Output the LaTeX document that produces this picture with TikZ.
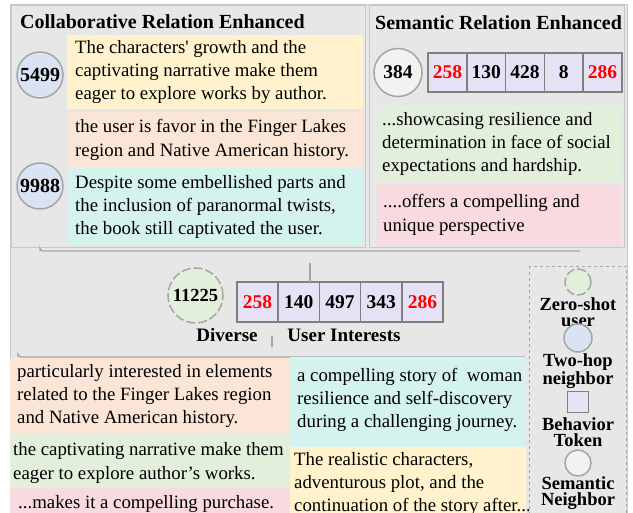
\documentclass[tikz,border=0pt]{standalone}
\usepackage{fontspec}
\setmainfont{Liberation Serif}[Ligatures=TeXOff]
\usetikzlibrary{positioning, calc}
\definecolor{cPanel}{RGB}{231,231,231}
\definecolor{cEdge}{RGB}{200,200,200}
\definecolor{cLine}{RGB}{165,165,165}
\definecolor{cYellow}{RGB}{255,242,204}
\definecolor{cPeach}{RGB}{251,229,214}
\definecolor{cCyan}{RGB}{212,242,238}
\definecolor{cGreen}{RGB}{226,239,218}
\definecolor{cPink}{RGB}{249,218,222}
\definecolor{cHop}{RGB}{218,227,243}
\definecolor{cSem}{RGB}{242,242,242}
\definecolor{cToken}{RGB}{230,225,245}
\definecolor{cTokEdge}{RGB}{128,128,128}
\definecolor{cRed}{RGB}{255,0,0}
\tikzset{
    panel/.style    ={draw=cEdge, line width=1pt, fill=cPanel},
    title/.style    ={anchor=base west, inner sep=0pt, font=\bfseries\fontsize{20}{24}\selectfont},
    textbox/.style  ={anchor=west, inner sep=0pt, align=left, font=\fontsize{18.8}{23.3}\selectfont},
    hopnode/.style  ={circle, draw=cLine, line width=1.5pt, fill=cHop, inner sep=0pt, minimum size=46, font=\bfseries\fontsize{20}{20}\selectfont},
    semnode/.style  ={circle, draw=cLine, line width=1.5pt, fill=cSem, inner sep=0pt, minimum size=48, font=\bfseries\fontsize{19.5}{20}\selectfont},
    usernode/.style ={circle, draw=cLine, line width=1.5pt, dash pattern=on 9pt off 3pt, fill=cGreen, inner sep=0pt, minimum size=55, font=\bfseries\fontsize{18.5}{20}\selectfont},
    token/.style    ={rectangle, draw=cTokEdge, line width=1.5pt, fill=cToken, inner sep=0pt, outer sep=0pt, minimum width=38.8, minimum height=39, font=\bfseries\fontsize{19.5}{20}\selectfont},
    hot/.style      ={text=cRed},
    brace/.style    ={draw=cLine, line width=1.2pt, rounded corners=3pt},
    tag/.style      ={inner sep=0pt, font=\bfseries\fontsize{19}{20}\selectfont},
    legendtxt/.style={align=center, inner sep=0pt, font=\bfseries\fontsize{18.5}{16.5}\selectfont},
}

\begin{document}
\begin{tikzpicture}[x=1pt, y=-1pt, node distance=0pt]
    \clip (0,0) rectangle (633,513);
    \fill[white] (0,0) rectangle (633,513);
    \draw[panel] (10,5) rectangle (627,530);
    \draw[panel] (11,6) rectangle (365,248);
    \draw[panel] (369,6) rectangle (624,248);

    % collaborative relation
    \node[title] (crTitle) at (20,29) {Collaborative Relation Enhanced};
    \fill[cYellow] (67,35) rectangle (363,109);
    \fill[cPeach] (67,112) rectangle (363,168);
    \fill[cCyan] (67,168) rectangle (363,245);
    \node[textbox] (crText1) at (75,72) {The characters' growth and the\\captivating narrative make them\\eager to explore works by author.};
    \node[textbox] (crText2) at (75,140) {the user is favor in the Finger Lakes\\region and Native American history.};
    \node[textbox] (crText3) at (75,207) {Despite some embellished parts and\\the inclusion of paranormal twists,\\the book still captivated the user.};
    \node[hopnode] (nb5499) at (40,75) {5499};
    \node[hopnode] (nb9988) at (40,186) {9988};

    % semantic relation
    \node[title] (srTitle) at (375,30) {Semantic Relation Enhanced};
    \node[semnode] (sn384) at (398,72.5) {384};
    \node[token, hot] (stk1) at (447.4,72.5) {258};
    \node[token, right=of stk1] (stk2) {130};
    \node[token, right=of stk2] (stk3) {428};
    \node[token, right=of stk3] (stk4) {8};
    \node[token, hot, right=of stk4] (stk5) {286};
    \fill[cGreen] (377,106) rectangle (621,182);
    \fill[cPink] (377,185) rectangle (621,246);
    \node[textbox] (srText1) at (382,144) {...showcasing resilience and\\determination in face of social\\expectations and hardship.};
    \node[textbox] (srText2) at (383,215) {....offers a compelling and\\unique perspective};

    % merge into user interests
    \coordinate (upL) at (40,251);
    \coordinate (upR) at (580,251);
    \coordinate (upMid) at (310,263);
    \draw[brace] (upL) |- (upR);
    \node[usernode] (zs11225) at (195.5,295.5) {11225};
    \node[token, hot, minimum width=41.2, minimum height=40] (utk1) at (257.6,302) {258};
    \node[token, minimum width=41.2, minimum height=40, right=of utk1] (utk2) {140};
    \node[token, minimum width=41.2, minimum height=40, right=of utk2] (utk3) {497};
    \node[token, minimum width=41.2, minimum height=40, right=of utk3] (utk4) {343};
    \node[token, hot, minimum width=41.2, minimum height=40, right=of utk4] (utk5) {286};
    \draw[brace] (upMid) -- (upMid |- utk2.north);
    \node[tag] (diverse) at (227,335) {Diverse};
    \node[tag] (interests) at (344,335) {User Interests};

    \coordinate (lowL) at (18,357);
    \coordinate (lowR) at (525,357);
    \coordinate (lowMid) at (272,347);
    \draw[brace] (lowL) |- (lowR);
    \draw[brace] (lowMid) -- ++(0,-11);

    % interest texts
    \fill[cPeach] (10,358) rectangle (290,433);
    \fill[cGreen] (10,433) rectangle (290,488);
    \fill[cPink] (10,488) rectangle (290,520);
    \fill[cCyan] (290,357) rectangle (526,447);
    \fill[cYellow] (290,447) rectangle (526,520);
    \node[textbox] (uiText1) at (17,396) {particularly interested in elements\\related to the Finger Lakes region\\and Native American history.};
    \node[textbox] (uiText2) at (13,463) {the captivating narrative make them\\eager to explore author’s works.};
    \node[textbox] (uiText3) at (18,504) {...makes it a compelling purchase.};
    \node[textbox] (uiText4) at (297,400) {a compelling story of\ \ woman\\resilience and self-discovery\\during a challenging journey.};
    \node[textbox] (uiText5) at (294,484) {The realistic characters,\\adventurous plot, and the\\continuation of the story after...};

    % legend
    \draw[draw=cLine, line width=0.8pt, dashed, fill=cPanel] (529,266) rectangle (626,530);
    \node[usernode, minimum size=26] (lgUser) at (578,282) {};
    \node[legendtxt] (lgUserTxt) at (578,312) {Zero-shot\\user};
    \node[hopnode, minimum size=28] (lgHop) at (578,338) {};
    \node[legendtxt] (lgHopTxt) at (578,371) {Two-hop\\neighbor};
    \node[token, minimum width=21, minimum height=21] (lgTok) at (578,402) {};
    \node[legendtxt] (lgTokTxt) at (578,432) {Behavior\\Token};
    \node[semnode, minimum size=26] (lgSem) at (578,463) {};
    \node[legendtxt] (lgSemTxt) at (578,493) {Semantic\\Neighbor};
\end{tikzpicture}
\end{document}
